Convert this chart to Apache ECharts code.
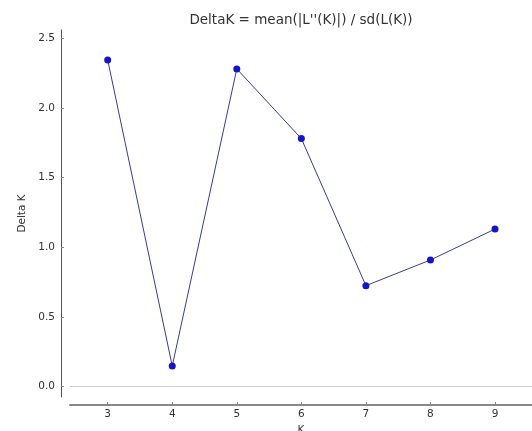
<!DOCTYPE html>
<html>
<head>
<meta charset="utf-8">
<script src="https://cdn.jsdelivr.net/npm/echarts@6/dist/echarts.min.js"></script>
<style>
html,body{margin:0;padding:0;background:#fff;}
#chart{width:532px;height:431px;}
</style>
</head>
<body>
<div id="chart"></div>
<script>
const kValues = [3, 4, 5, 6, 7, 8, 9];
const deltaK = [2.344, 0.148, 2.28, 1.78, 0.725, 0.909, 1.131];
const xTicks = [3, 4, 5, 6, 7, 8, 9];
const yTicks = [0, 0.5, 1, 1.5, 2, 2.5];
const titleText = "DeltaK = mean(|L''(K)|) / sd(L(K))";

const chart = echarts.init(document.getElementById('chart'), null, {renderer: 'canvas'});
const font = 'DejaVu Sans';
chart.setOption({
  animation: false,
  backgroundColor: '#fff',
  title: {
    text: titleText,
    left: 296, top: 8,
    textAlign: 'center',
    textStyle: {fontFamily: font, fontSize: 13.5, fontWeight: 'normal', color: '#333'}
  },
  grid: {left: 70, right: 0, top: 30, bottom: 34, outerBoundsMode: 'none', containLabel: false},
  xAxis: {
    type: 'value',
    min: 2.416, max: 9.573,
    offset: 8,
    name: 'K', nameLocation: 'middle', nameGap: 17,
    nameTextStyle: {fontFamily: font, fontSize: 10.5, color: '#333'},
    axisLine: {show: true, onZero: false, lineStyle: {color: '#888', width: 2}},
    axisTick: {show: true, inside: true, length: 3, customValues: xTicks, lineStyle: {color: '#888'}},
    axisLabel: {customValues: xTicks, fontFamily: font, fontSize: 10.5, color: '#333', margin: 4},
    splitLine: {show: false}
  },
  yAxis: {
    type: 'value',
    min: -0.074, max: 2.559,
    offset: 9,
    name: 'Delta K', nameLocation: 'middle', nameGap: 29,
    nameTextStyle: {fontFamily: font, fontSize: 10.5, color: '#333'},
    axisLine: {show: true, onZero: false, lineStyle: {color: '#555', width: 1}},
    axisTick: {show: true, inside: true, length: 3, customValues: yTicks, lineStyle: {color: '#888'}},
    axisLabel: {customValues: yTicks, fontFamily: font, fontSize: 10.5, color: '#333', margin: 6,
      formatter: v => v.toFixed(1)},
    splitLine: {show: false}
  },
  series: [{
    type: 'line',
    data: kValues.map((k, i) => [k, deltaK[i]]),
    symbol: 'circle', symbolSize: 7,
    itemStyle: {color: '#1414c8'},
    lineStyle: {color: '#3a3aa0', width: 1},
    markLine: {
      silent: true, symbol: 'none', label: {show: false},
      lineStyle: {color: '#d0d0d0', width: 1, type: 'solid'},
      data: [{yAxis: 0}]
    },
    z: 3
  }]
});
</script>
</body>
</html>
